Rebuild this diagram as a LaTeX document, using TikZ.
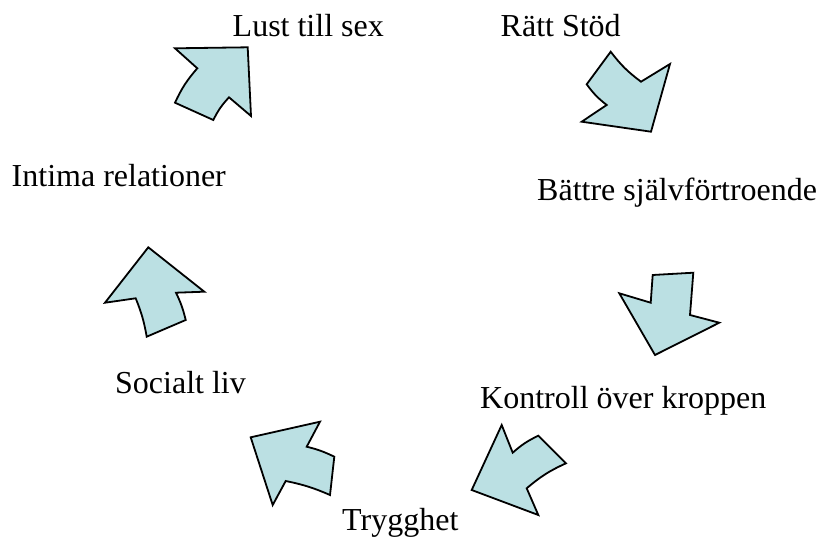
\documentclass[tikz,border=0pt]{standalone}
\usepackage{fontspec}
\setmainfont{Liberation Serif}
\definecolor{arrfill}{RGB}{187,224,227}
\begin{document}
\begin{tikzpicture}[x=1pt,y=-1pt,
  blockarrow/.style={draw=black,fill=arrfill,line width=1.8pt,line join=miter},
  lbl/.style={anchor=base west,inner sep=0pt,font=\fontsize{32}{38}\selectfont}]
\useasboundingbox (0,0) rectangle (819,541);
% labels
\node[lbl] (lust) at (232.5,36) {Lust till sex};
\node[lbl] (ratt) at (500.5,36) {Rätt Stöd};
\node[lbl] (intima) at (11.5,186.7) {Intima relationer};
\node[lbl] (battre) at (537,200) {Bättre självförtroende};
\node[lbl] (social) at (115,393.3) {Socialt liv};
\node[lbl] (kontroll) at (480,408.3) {Kontroll över kroppen};
\node[lbl] (trygg) at (342,530) {Trygghet};
% arrow 1 (up-right, near Lust till sex)
\draw[blockarrow] (247.7,47.3) -- (175,48.3) -- (197.3,68.3) to[bend right=8] (175,102.7) -- (213.3,120) to[bend left=8] (229,97.3) -- (251,116) -- cycle;
% arrow 2 (down-right, near Rätt Stöd)
\draw[blockarrow] (651,131.7) -- (581.7,121.7) -- (606.7,105) to[bend left=8] (586.7,84.3) -- (610.7,51.7) to[bend right=8] (641,81.7) -- (670,64) -- cycle;
% arrow 3 (down, right side)
\draw[blockarrow] (655,355) -- (619.3,293.3) -- (650.7,302.7) -- (652.7,275) -- (693.3,272.7) -- (690,315) -- (719.3,322.7) -- cycle;
% arrow 4 (down-left)
\draw[blockarrow] (471.7,490) -- (501.7,425) -- (512.7,452.7) to[bend left=8] (538.3,435.7) -- (566,463.3) to[bend right=8] (526.7,488.3) -- (538.3,515) -- cycle;
% arrow 5 (left-up)
\draw[blockarrow] (250.7,437.3) -- (320,421.7) -- (306.7,446.7) to[bend left=6] (334.3,456.7) -- (330,495) to[bend right=6] (285.7,481) -- (272.7,505) -- cycle;
% arrow 6 (up, left side)
\draw[blockarrow] (148.3,247.3) -- (204.3,291.7) -- (176,292.7) to[bend left=6] (185.7,320) -- (146.7,336.7) to[bend right=6] (135.7,298.3) -- (105,302.7) -- cycle;
\end{tikzpicture}
\end{document}
